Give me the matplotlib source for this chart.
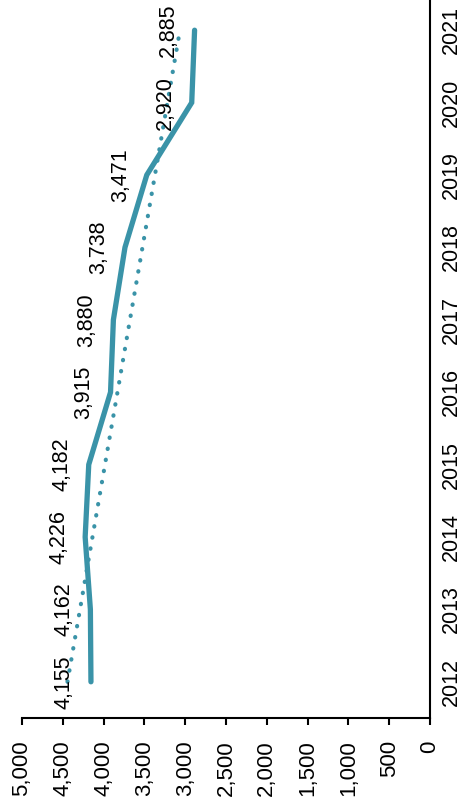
import numpy as np
import matplotlib
matplotlib.use("Agg")
import matplotlib.pyplot as plt

years = ["2012", "2013", "2014", "2015", "2016", "2017", "2018", "2019", "2020", "2021"]
values = [4155, 4162, 4226, 4182, 3915, 3880, 3738, 3471, 2920, 2885]
value_ticks = [0, 500, 1000, 1500, 2000, 2500, 3000, 3500, 4000, 4500, 5000]

color = "#3A93A8"
plt.rcParams["font.family"] = ["Liberation Sans", "DejaVu Sans"]

fig = plt.figure(figsize=(4.66, 8.10), dpi=100)
ax = fig.add_axes([22 / 466, 92 / 810, 408 / 466, 724 / 810])

pos = np.arange(len(years))

# linear trend across the series
coef = np.polyfit(pos, values, 1)
trend = np.polyval(coef, pos)

# chart is laid out sideways: values run horizontally (reversed), years vertically
ax.plot(trend, pos, color=color, lw=3.0, linestyle=(0, (0.1, 2.6)),
        dash_capstyle="round", zorder=2)
ax.plot(values, pos, color=color, lw=3.8, solid_capstyle="round",
        solid_joinstyle="miter", zorder=3)

for v, p in zip(values, pos):
    ax.annotate(f"{v:,}", (v, p), xytext=(-16, 0), textcoords="offset pixels",
                rotation=90, ha="right", va="center", fontsize=15.5, color="black")

ax.set_xlim(5000, 0)
ax.set_ylim(-0.5, len(years) - 0.5)

ax.set_xticks(value_ticks)
ax.set_xticklabels([f"{t:,}" for t in value_ticks], rotation=90, fontsize=16)
ax.tick_params(axis="x", direction="out", length=5, width=1.5, pad=11, color="black")

ax.yaxis.tick_right()
ax.set_yticks(pos)
ax.set_yticklabels(years, rotation=90, fontsize=15.5, va="center")
ax.tick_params(axis="y", length=0, pad=8)

for side in ("left", "top"):
    ax.spines[side].set_visible(False)
for side in ("bottom", "right"):
    ax.spines[side].set_linewidth(1.5)
    ax.spines[side].set_color("black")

fig.savefig("out.png", dpi=100)
